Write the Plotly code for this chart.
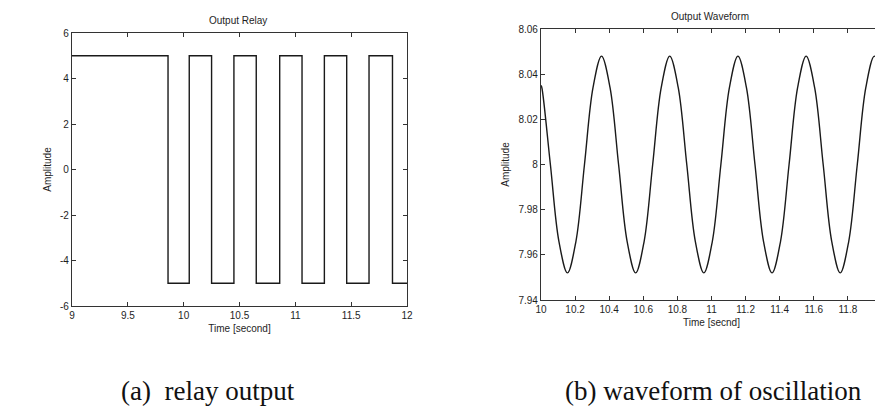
import plotly.graph_objects as go

# Page is 883x407; the HTML body has an 8px margin, so the figure is drawn
# 8px smaller and every page-pixel position is shifted by 8.
PAGE_W, PAGE_H = 883, 407
OFF = 8
W, H = PAGE_W - OFF, PAGE_H - OFF

# ---- (a) relay output: switching instants and levels
relay_t = [9.0, 9.86, 10.05, 10.25, 10.45, 10.65, 10.86, 11.06, 11.26, 11.46, 11.66, 11.87, 12.0]
relay_v = [5, -5, 5, -5, 5, -5, 5, -5, 5, -5, 5, -5, -5]
relay_xticks = [9, 9.5, 10, 10.5, 11, 11.5, 12]
relay_xlabels = ["9", "9.5", "10", "10.5", "11", "11.5", "12"]
relay_yticks = [-6, -4, -2, 0, 2, 4, 6]
relay_ylabels = ["-6", "-4", "-2", "0", "2", "4", "6"]

# ---- (b) waveform of oscillation: points read at eighth-period spacing
wave_t = [10.0, 10.005, 10.055, 10.105, 10.155, 10.205, 10.255, 10.305, 10.355, 10.405, 10.455,
          10.505, 10.555, 10.605, 10.655, 10.705, 10.755, 10.805, 10.855, 10.905, 10.955,
          11.005, 11.055, 11.105, 11.155, 11.205, 11.255, 11.305, 11.355, 11.405, 11.455,
          11.505, 11.555, 11.605, 11.655, 11.705, 11.755, 11.805, 11.855, 11.905, 11.955, 12.0]
wave_v = [8.035, 8.034, 8.0, 7.966, 7.952, 7.966, 8.0, 8.034, 8.048, 8.034, 8.0,
          7.966, 7.952, 7.966, 8.0, 8.034, 8.048, 8.034, 8.0, 7.966, 7.952,
          7.966, 8.0, 8.034, 8.048, 8.034, 8.0, 7.966, 7.952, 7.966, 8.0,
          8.034, 8.048, 8.034, 8.0, 7.966, 7.952, 7.966, 8.0, 8.034, 8.048, 8.037]
wave_xticks = [10, 10.2, 10.4, 10.6, 10.8, 11, 11.2, 11.4, 11.6, 11.8, 12]
wave_xlabels = ["10", "10.2", "10.4", "10.6", "10.8", "11", "11.2", "11.4", "11.6", "11.8", "12"]
wave_yticks = [7.94, 7.96, 7.98, 8.0, 8.02, 8.04, 8.06]
wave_ylabels = ["7.94", "7.96", "7.98", "8", "8.02", "8.04", "8.06"]

titles = ["Output Relay", "Output Waveform"]
xtitles = ["Time [second]", "Time [secnd]"]
ytitle = "Amplitude"
captions = ["(a)\u00a0 relay output", "(b) waveform of oscillation"]

LINE = "#1a1a1a"
TXT = "#1e1e1e"
FONT = "Liberation Sans, Arial, sans-serif"
SERIF = "Liberation Serif, Times New Roman, serif"

fig = go.Figure()
fig.add_trace(go.Scatter(x=relay_t, y=relay_v, mode="lines", line_shape="hv",
                         line=dict(color=LINE, width=1.4), xaxis="x", yaxis="y",
                         showlegend=False, hoverinfo="skip"))
fig.add_trace(go.Scatter(x=wave_t, y=wave_v, mode="lines", line_shape="spline",
                         line=dict(color=LINE, width=1.4, smoothing=1.0), xaxis="x2", yaxis="y2",
                         showlegend=False, hoverinfo="skip"))


def px_x(p):
    return (p - OFF) / W


def px_y(p):
    return 1 - (p - OFF) / H


axis_common = dict(showgrid=False, zeroline=False, showline=True, linecolor="#333",
                   linewidth=1.2, mirror="allticks", ticks="inside", ticklen=4,
                   tickcolor="#333", tickwidth=1,
                   tickfont=dict(family=FONT, size=10, color=TXT), automargin=False)

fig.update_layout(
    width=W, height=H,
    margin=dict(l=0, r=0, t=0, b=0),
    paper_bgcolor="white", plot_bgcolor="white",
    font=dict(family=FONT, color=TXT),
    xaxis=dict(domain=[px_x(72), px_x(407)], range=[9, 12], tickvals=relay_xticks,
               ticktext=relay_xlabels, anchor="y",
               title=dict(text=xtitles[0], font=dict(size=10, family=FONT, color=TXT), standoff=4),
               **axis_common),
    yaxis=dict(domain=[px_y(306), px_y(33)], range=[-6, 6], tickvals=relay_yticks,
               ticktext=relay_ylabels, anchor="x",
               title=dict(text=ytitle, font=dict(size=10, family=FONT, color=TXT), standoff=6),
               **axis_common),
    xaxis2=dict(domain=[px_x(541), px_x(882)], range=[10, 12], tickvals=wave_xticks,
                ticktext=wave_xlabels, anchor="y2",
                title=dict(text=xtitles[1], font=dict(size=10, family=FONT, color=TXT), standoff=4),
                **axis_common),
    yaxis2=dict(domain=[px_y(300), px_y(29)], range=[7.94, 8.06], tickvals=wave_yticks,
                ticktext=wave_ylabels, anchor="x2",
                title=dict(text=ytitle, font=dict(size=10, family=FONT, color=TXT), standoff=6),
                **axis_common),
)

fig.add_annotation(text=titles[0], x=px_x(238), y=px_y(21), xref="paper", yref="paper",
                   xanchor="center", yanchor="middle",
                   showarrow=False, font=dict(size=10, family=FONT, color=TXT))
fig.add_annotation(text=titles[1], x=px_x(710), y=px_y(16), xref="paper", yref="paper",
                   xanchor="center", yanchor="middle",
                   showarrow=False, font=dict(size=10, family=FONT, color=TXT))
fig.add_annotation(text=captions[0], x=px_x(208), y=px_y(391), xref="paper", yref="paper",
                   xanchor="center", yanchor="middle",
                   showarrow=False, font=dict(size=27, family=SERIF, color="#111"))
fig.add_annotation(text=captions[1], x=px_x(713), y=px_y(391), xref="paper", yref="paper",
                   xanchor="center", yanchor="middle",
                   showarrow=False, font=dict(size=27, family=SERIF, color="#111"))

fig.write_html("out.html")
